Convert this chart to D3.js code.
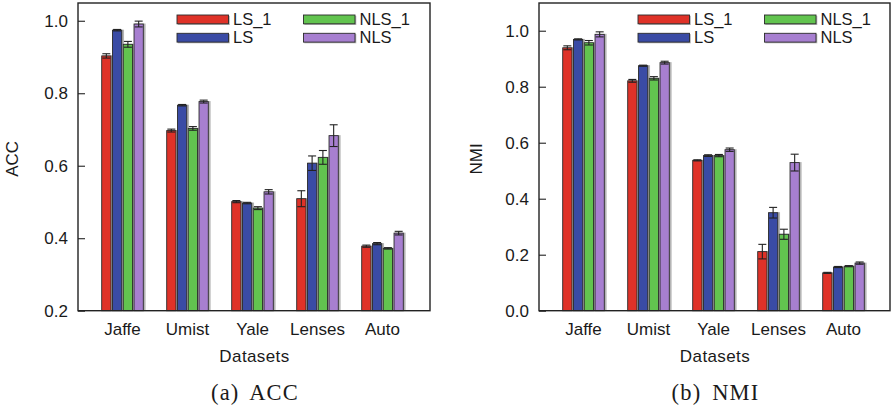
<!DOCTYPE html>
<html><head><meta charset="utf-8">
<script src="https://cdn.jsdelivr.net/npm/d3@7"></script>
<style>body{margin:0;background:#fff}svg{display:block}</style>
</head><body>
<svg id="chart" width="891" height="408"></svg>
<script>
const datasets = ["Jaffe", "Umist", "Yale", "Lenses", "Auto"];
const seriesNames = ["LS_1", "LS", "NLS_1", "NLS"];
const seriesColors = ["#df3228", "#3a4ba5", "#62c44f", "#a77fd0"];

// ACC values per series (order of datasets)
const accLS1 = [0.903, 0.697, 0.501, 0.509, 0.378];
const accLS = [0.974, 0.767, 0.497, 0.607, 0.385];
const accNLS1 = [0.935, 0.703, 0.483, 0.623, 0.372];
const accNLS = [0.991, 0.777, 0.528, 0.683, 0.414];
const accErrLS1 = [0.006, 0.004, 0.003, 0.022, 0.003];
const accErrLS = [0.002, 0.002, 0.002, 0.020, 0.003];
const accErrNLS1 = [0.008, 0.005, 0.004, 0.019, 0.002];
const accErrNLS = [0.008, 0.004, 0.006, 0.030, 0.005];
const accTicks = [0.2, 0.4, 0.6, 0.8, 1.0];

// NMI values per series
const nmiLS1 = [0.939, 0.821, 0.537, 0.211, 0.135];
const nmiLS = [0.969, 0.875, 0.554, 0.350, 0.156];
const nmiNLS1 = [0.957, 0.830, 0.554, 0.273, 0.159];
const nmiNLS = [0.987, 0.886, 0.575, 0.529, 0.170];
const nmiErrLS1 = [0.007, 0.005, 0.002, 0.026, 0.002];
const nmiErrLS = [0.002, 0.002, 0.003, 0.019, 0.002];
const nmiErrNLS1 = [0.008, 0.006, 0.004, 0.018, 0.002];
const nmiErrNLS = [0.009, 0.005, 0.006, 0.030, 0.004];
const nmiTicks = [0.0, 0.2, 0.4, 0.6, 0.8, 1.0];

const svg = d3.select("#chart");
const sans = "'Liberation Sans', Arial, Helvetica, sans-serif";
const fs = 17;

function panel(cfg) {
  const g = svg.append("g");
  const left = cfg.left, right = cfg.right, top = 3, bottom = 310.7;
  const y = d3.scaleLinear().domain(cfg.domain).range([bottom, top]);
  const x0 = d3.scaleBand().domain(datasets).range([left + 12, left + 337])
    .paddingInner(0.36).paddingOuter(0.18);
  const x1 = d3.scaleBand().domain(seriesNames).range([0, x0.bandwidth()])
    .paddingInner(0.14).paddingOuter(0);

  const rows = [];
  datasets.forEach((d, i) => {
    seriesNames.forEach((s, j) => {
      rows.push({d, s, j, v: cfg.values[j][i], e: cfg.errors[j][i]});
    });
  });

  // shadows
  g.selectAll("rect.sh").data(rows).enter().append("rect")
    .attr("x", r => x0(r.d) + x1(r.s) + 0.5)
    .attr("y", r => y(r.v) - 0.5)
    .attr("width", x1.bandwidth() + 1.8)
    .attr("height", r => bottom - y(r.v) + 0.5)
    .attr("fill", "#b5b5b5");
  // bars
  g.selectAll("rect.bar").data(rows).enter().append("rect")
    .attr("x", r => x0(r.d) + x1(r.s))
    .attr("y", r => y(r.v))
    .attr("width", x1.bandwidth())
    .attr("height", r => bottom - y(r.v))
    .attr("fill", r => seriesColors[r.j])
    .attr("stroke", "#2b2b2b").attr("stroke-width", 0.9);
  // error bars
  const eb = g.selectAll("g.eb").data(rows).enter().append("g")
    .attr("stroke", "#222").attr("stroke-width", 1.1);
  const cx = r => x0(r.d) + x1(r.s) + x1.bandwidth() / 2;
  eb.append("line").attr("x1", cx).attr("x2", cx)
    .attr("y1", r => y(r.v + r.e)).attr("y2", r => y(r.v - r.e));
  eb.append("line").attr("x1", r => cx(r) - 4).attr("x2", r => cx(r) + 4)
    .attr("y1", r => y(r.v + r.e)).attr("y2", r => y(r.v + r.e));
  eb.append("line").attr("x1", r => cx(r) - 4).attr("x2", r => cx(r) + 4)
    .attr("y1", r => y(r.v - r.e)).attr("y2", r => y(r.v - r.e));

  // frame
  g.append("rect").attr("x", left).attr("y", top)
    .attr("width", right - left).attr("height", bottom - top)
    .attr("fill", "none").attr("stroke", "#222").attr("stroke-width", 1.4);

  // y axis
  const ya = g.append("g").attr("transform", `translate(${left},0)`)
    .call(d3.axisLeft(y).tickValues(cfg.ticks).tickFormat(d3.format(".1f"))
      .tickSizeInner(-7).tickSizeOuter(0).tickPadding(10));
  ya.select(".domain").remove();
  ya.selectAll(".tick line").attr("stroke", "#222").attr("stroke-width", 1.1);
  ya.selectAll(".tick text").attr("font-family", sans).attr("font-size", fs)
    .attr("fill", "#1a1a1a");

  // x axis labels
  const xa = g.append("g").attr("transform", `translate(0,${bottom})`)
    .call(d3.axisBottom(x0).tickSize(0).tickPadding(12));
  xa.select(".domain").remove();
  xa.selectAll(".tick text").attr("font-family", sans).attr("font-size", fs)
    .attr("fill", "#1a1a1a");

  g.append("text").attr("x", (left + right) / 2 + 0.5).attr("y", 362)
    .attr("text-anchor", "middle").attr("font-family", sans).attr("font-size", fs)
    .attr("letter-spacing", 0.4)
    .attr("fill", "#1a1a1a").text("Datasets");

  g.append("text").attr("transform", `translate(${cfg.ylabX},${(top + bottom) / 2 + 2}) rotate(-90)`)
    .attr("text-anchor", "middle").attr("font-family", sans).attr("font-size", fs)
    .attr("fill", "#1a1a1a").text(cfg.ylabel);

  // legend
  const lg = g.append("g");
  seriesNames.forEach((s, j) => {
    const col = j === 0 || j === 1 ? 0 : 1;
    const row = j === 0 || j === 2 ? 0 : 1;
    const lx = left + 99 + col * 126.5;
    const ly = 15 + row * 18.3;
    lg.append("rect").attr("x", lx + 0.8).attr("y", ly + 0.8).attr("width", 52).attr("height", 9.2)
      .attr("fill", "#b5b5b5");
    lg.append("rect").attr("x", lx).attr("y", ly).attr("width", 51.5).attr("height", 8.8)
      .attr("fill", seriesColors[j]).attr("stroke", "#2b2b2b").attr("stroke-width", 0.9);
    lg.append("text").attr("x", lx + 56).attr("y", ly + 10).attr("font-family", sans)
      .attr("font-size", 16.5).attr("fill", "#1a1a1a").text(s);
  });

  g.append("text").attr("x", (left + right) / 2 + 1).attr("y", 400)
    .attr("text-anchor", "middle").attr("font-family", "'Liberation Serif', 'Times New Roman', serif")
    .attr("font-size", 22.5).attr("fill", "#1a1a1a").attr("word-spacing", 4)
    .attr("letter-spacing", 1.2).text(cfg.caption);
}

panel({
  left: 78, right: 430, domain: [0.2, 1.049], ticks: accTicks, ylabel: "ACC", ylabX: 18,
  values: [accLS1, accLS, accNLS1, accNLS], errors: [accErrLS1, accErrLS, accErrNLS1, accErrNLS],
  caption: "(a) ACC"
});
panel({
  left: 539, right: 890, domain: [0, 1.099], ticks: nmiTicks, ylabel: "NMI", ylabX: 482,
  values: [nmiLS1, nmiLS, nmiNLS1, nmiNLS], errors: [nmiErrLS1, nmiErrLS, nmiErrNLS1, nmiErrNLS],
  caption: "(b) NMI"
});
</script>
</body></html>
